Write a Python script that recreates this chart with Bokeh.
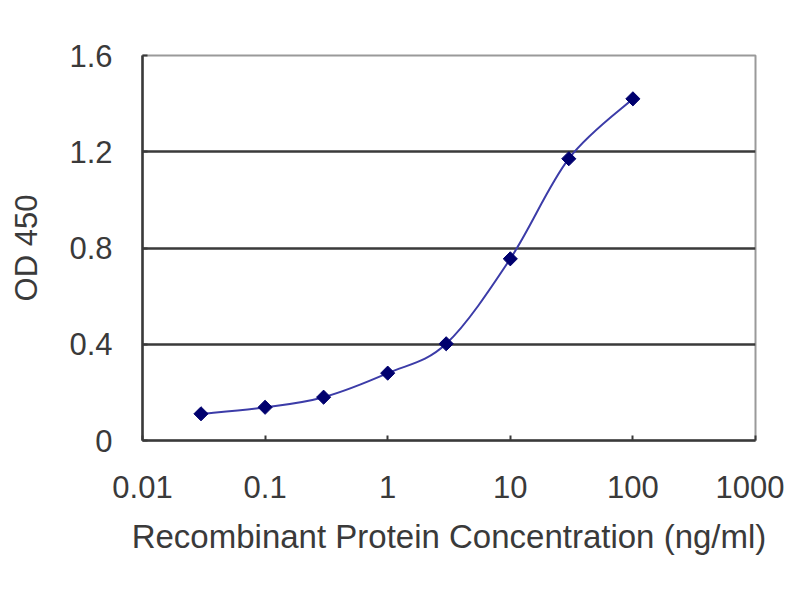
import numpy as np
from bokeh.plotting import figure
from bokeh.models import FixedTicker, Range1d
from bokeh.embed import file_html
from bokeh.resources import INLINE

# Data
conc = [0.03, 0.1, 0.3, 1, 3, 10, 30, 100]
od = [0.111, 0.138, 0.18, 0.28, 0.402, 0.755, 1.171, 1.42]

x_ticks = [0.01, 0.1, 1, 10, 100, 1000]
x_tick_labels = ["0.01", "0.1", "1", "10", "100", "1000"]
y_ticks = [0, 0.4, 0.8, 1.2, 1.6]
y_tick_labels = ["0", "0.4", "0.8", "1.2", "1.6"]
grid_values = [0.4, 0.8, 1.2]

x_title = "Recombinant Protein Concentration (ng/ml)"
y_title = "OD 450"

FONT = "Liberation Sans"

p = figure(width=784, height=584, x_axis_type="log",
           x_range=Range1d(0.01, 1000), y_range=Range1d(0, 1.6),
           output_backend="svg", toolbar_location=None,
           min_border_left=142, min_border_right=29,
           min_border_top=55, min_border_bottom=144)
p.background_fill_color = "white"
p.border_fill_color = "white"
p.outline_line_color = "#9a9a9a"
p.outline_line_width = 2

# smoothed line (Catmull-Rom style bezier segments in log-x space)
lx = np.log10(np.array(conc, dtype=float))
ly = np.array(od, dtype=float)
n = len(lx)
x0, y0, x1, y1, cx0, cy0, cx1, cy1 = [], [], [], [], [], [], [], []
for i in range(n - 1):
    pm = i - 1 if i > 0 else i
    pp = i + 2 if i + 2 < n else i + 1
    ax = lx[i] + (lx[i + 1] - lx[pm]) / 6.0
    ay = ly[i] + (ly[i + 1] - ly[pm]) / 6.0
    bx = lx[i + 1] - (lx[pp] - lx[i]) / 6.0
    by = ly[i + 1] - (ly[pp] - ly[i]) / 6.0
    x0.append(10 ** lx[i]); y0.append(ly[i])
    x1.append(10 ** lx[i + 1]); y1.append(ly[i + 1])
    cx0.append(10 ** ax); cy0.append(ay)
    cx1.append(10 ** bx); cy1.append(by)
p.bezier(x0=x0, y0=y0, x1=x1, y1=y1, cx0=cx0, cy0=cy0, cx1=cx1, cy1=cy1,
         line_color="#3c3ca8", line_width=2)

p.scatter(conc, od, marker="square", angle=np.pi / 4, size=10,
          fill_color="#00006e", line_color="#00006e")

# grid
p.xgrid.grid_line_color = None
p.ygrid.ticker = FixedTicker(ticks=grid_values)
p.ygrid.grid_line_color = "#3a3a3a"
p.ygrid.grid_line_width = 2.5

# axes
xa = p.xaxis[0]
xa.ticker = FixedTicker(ticks=x_ticks, minor_ticks=[])
xa.major_label_overrides = {t: l for t, l in zip(x_ticks, x_tick_labels)}
ya = p.yaxis[0]
ya.ticker = FixedTicker(ticks=y_ticks, minor_ticks=[])
ya.major_label_overrides = {t: l for t, l in zip(y_ticks, y_tick_labels)}

for ax in (xa, ya):
    ax.axis_line_color = "#3a3a3a"
    ax.axis_line_width = 2.5
    ax.major_tick_in = 5
    ax.major_tick_out = 0
    ax.major_tick_line_color = "#3a3a3a"
    ax.major_tick_line_width = 2
    ax.minor_tick_line_color = None
    ax.major_label_text_font = FONT
    ax.major_label_text_font_size = "31px"
    ax.major_label_text_color = "#3a3a3a"
    ax.axis_label_text_font = FONT
    ax.axis_label_text_font_style = "normal"
    ax.axis_label_text_color = "#3a3a3a"

xa.axis_label = x_title
xa.axis_label_text_font_size = "33px"
xa.major_label_standoff = 35
xa.axis_label_standoff = 17
ya.axis_label = y_title
ya.axis_label_text_font_size = "31px"
ya.major_label_standoff = 30
ya.axis_label_standoff = 22

open("out.html", "w").write(file_html(p, INLINE))
